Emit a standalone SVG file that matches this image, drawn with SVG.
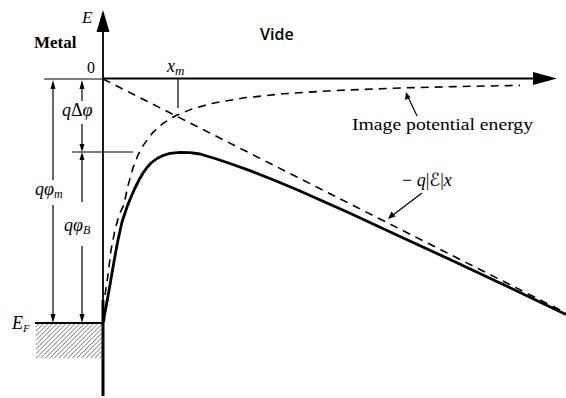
<svg xmlns="http://www.w3.org/2000/svg" width="566" height="398" viewBox="0 0 566 398">
<style>
.ln{stroke:#000;fill:none}
.thin{stroke:#000;stroke-width:1.2;fill:none}
.dash{stroke:#000;stroke-width:1.6;fill:none;stroke-dasharray:8 6}
.i{font-style:italic}
.ah{fill:#000}
</style>
<defs>
<pattern id="hatch" patternUnits="userSpaceOnUse" width="3.2" height="3.2" patternTransform="rotate(45)">
<line x1="0" y1="0" x2="0" y2="3.2" stroke="#666" stroke-width="1.3"/>
</pattern>
</defs>
<rect width="566" height="398" fill="#fff"/>

<g id="metal">
<rect x="36" y="324" width="66" height="34" fill="url(#hatch)"/>
<line x1="35" y1="323" x2="104" y2="323" stroke="#000" stroke-width="2"/>
</g>

<g id="axes">
<line x1="103" y1="28" x2="103" y2="300" stroke="#000" stroke-width="1.8"/>
<line x1="103" y1="300" x2="103" y2="396" stroke="#000" stroke-width="3"/>
<polygon class="ah" points="103,10 96.5,32 109.5,32"/>
<line x1="44" y1="79" x2="103" y2="79" stroke="#000" stroke-width="1.2"/>
<line x1="103" y1="78.5" x2="537" y2="78.5" stroke="#000" stroke-width="1.8"/>
<polygon class="ah" points="557,78.5 533,72 533,85"/>
</g>

<g id="curves">
<line class="dash" x1="103" y1="79" x2="566" y2="313"/>
<polyline class="dash" points="105,295 108,275 111,250 115,230 119,215 123.8,205 128,185.6 133,167.8 138,155.1 143,145.6 153,132.3 163,123.4 176,115.5 193,108.6 213,103.2 243,98 283,93.8 333,90.6 403,87.9 470,86.3 520,85.4"/>
<polyline class="ln" stroke-width="2.8" stroke-linejoin="round" points="103.5,322 104.5,315 106,307 108,296 110,285 112,273 115,256 118,240 122,222 127,207 131,197 135,188 139,180 143,173 147,167.5 151,163 157,158.5 163,155.5 170,153.3 180,152.3 190,152.6 200,154 215,158.5 230,163.5 250,170.6 275,180.5 300,191 350,213.3 400,236.5 450,259.5 500,283 566,314.5"/>
</g>

<g id="dimensions">
<line class="thin" x1="178" y1="79" x2="178" y2="108"/>
<line class="thin" x1="72" y1="152" x2="133" y2="152"/>
<line class="thin" x1="53" y1="88" x2="53" y2="180"/>
<line class="thin" x1="53" y1="205" x2="53" y2="315"/>
<polygon class="ah" points="53,80 50.5,89 55.5,89"/>
<polygon class="ah" points="53,323 50.5,314 55.5,314"/>
<line class="thin" x1="82" y1="88" x2="82" y2="101"/>
<polygon class="ah" points="82,80 79.5,89 84.5,89"/>
<line class="thin" x1="82" y1="124" x2="82" y2="145"/>
<polygon class="ah" points="82,152 79.5,144 84.5,144"/>
<polygon class="ah" points="82,152 79.5,160 84.5,160"/>
<line class="thin" x1="82" y1="159" x2="82" y2="202"/>
<line class="thin" x1="82" y1="246" x2="82" y2="315"/>
<polygon class="ah" points="82,323 79.5,314 84.5,314"/>
</g>

<g id="connectors">
<line class="thin" x1="417" y1="116" x2="408" y2="97"/>
<polygon class="ah" points="406,92 405,100 410.5,97.5"/>
<line class="thin" x1="422" y1="193" x2="393" y2="215"/>
<polygon class="ah" points="388,219 391.5,211.5 395.5,216.5"/>
</g>

<g id="labels" font-family="Liberation Serif, Times New Roman, serif" fill="#000">
<text class="i" x="82" y="23" font-size="17">E</text>
<text x="34" y="48" font-size="17" font-weight="bold">Metal</text>
<text x="260" y="40" font-family="Open Sans, Liberation Sans, sans-serif" font-size="16" font-weight="600">Vide</text>
<text x="87" y="73" font-size="16">0</text>
<text class="i" x="167" y="72" font-size="18">x<tspan font-size="13" dy="3">m</tspan></text>
<text x="62" y="116" font-size="18"><tspan class="i">q</tspan>Δ<tspan class="i">φ</tspan></text>
<text x="35" y="195" font-size="18"><tspan class="i">qφ</tspan><tspan class="i" font-size="12" dy="3">m</tspan></text>
<text x="64" y="231" font-size="18"><tspan class="i">qφ</tspan><tspan class="i" font-size="12" dy="3">B</tspan></text>
<text class="i" x="12" y="329" font-size="18">E<tspan font-size="11" dy="3">F</tspan></text>
<text x="352" y="130" font-size="17" textLength="181" lengthAdjust="spacingAndGlyphs">Image potential energy</text>
<text x="402" y="186" font-size="18">− <tspan class="i">q</tspan>|<tspan font-family="DejaVu Serif, DejaVu Sans, serif" font-style="italic">ℰ</tspan>|<tspan class="i">x</tspan></text>
</g>
</svg>
